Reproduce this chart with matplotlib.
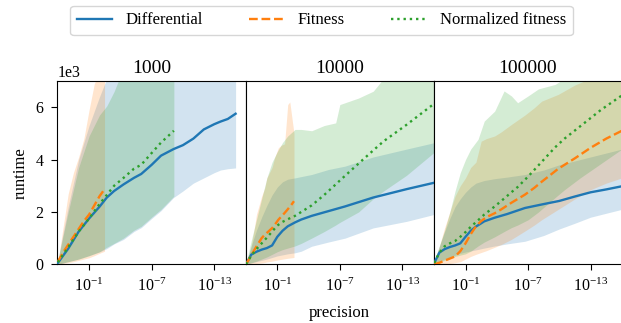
import numpy as np
import matplotlib
matplotlib.use("Agg")
import matplotlib.pyplot as plt
from matplotlib.ticker import NullLocator, FixedLocator

plt.rcParams['font.family'] = ['Liberation Serif', 'DejaVu Serif']
plt.rcParams['mathtext.fontset'] = 'stix'

# ---------------- data (precision exponent -> runtime) ----------------
panel_titles = ["1000", "10000", "100000"]
series_names = ["Differential", "Fitness", "Normalized fitness"]

# Panel 1000
p1_diff_exp = [2.0, 1.0, 0.0, -1.0, -2.0, -2.7, -3.4, -4.3, -5.3, -6.0, -7.0, -7.9, -9.1, -10.0, -11.0, -12.0, -13.0, -13.6, -14.3, -15.05]
p1_diff_mean = [50, 600, 1250, 1750, 2200, 2550, 2800, 3050, 3300, 3450, 3800, 4150, 4400, 4550, 4800, 5150, 5350, 5450, 5550, 5750]
p1_diff_lo = [0, 100, 200, 330, 470, 600, 780, 950, 1250, 1400, 1750, 2050, 2550, 2800, 3100, 3300, 3500, 3600, 3650, 3680]
p1_diff_hi = [150, 2200, 4000, 5300, 6400, 7100, 7500, 7500, 7500, 7500, 7500, 7500, 7500, 7500, 7500, 7500, 7500, 7500, 7500, 7500]

p1_fit_exp = [2.0, 1.5, 1.0, 0.5, 0.0, -0.5, -1.0, -1.5, -2.0, -2.48]
p1_fit_mean = [100, 450, 750, 1050, 1350, 1650, 1900, 2250, 2600, 2870]
p1_fit_lo = [0, 30, 60, 100, 150, 200, 250, 330, 420, 500]
p1_fit_hi = [50, 1400, 2700, 3500, 4100, 4800, 5900, 6900, 7300, 7500]

p1_norm_exp = [2.0, 1.0, 0.0, -1.0, -2.0, -2.7, -3.4, -4.3, -5.3, -6.0, -7.0, -7.9, -9.13]
p1_norm_mean = [80, 650, 1250, 1750, 2300, 2650, 3000, 3300, 3650, 3800, 4250, 4650, 5100]
p1_norm_lo = [0, 100, 200, 330, 480, 650, 800, 1000, 1300, 1450, 1800, 2100, 2600]
p1_norm_hi = [150, 2000, 3700, 4900, 5700, 6050, 6600, 7500, 7500, 7500, 7500, 7500, 7500]

# Panel 10000
p2_diff_exp = [2.0, 1.5, 1.0, 0.5, 0.0, -0.5, -1.0, -1.5, -2.0, -2.7, -3.3, -4.3, -5.9, -7.5, -10.2, -13.4, -16.0]
p2_diff_mean = [0, 370, 480, 560, 620, 720, 1050, 1280, 1450, 1600, 1710, 1850, 2030, 2210, 2550, 2870, 3110]
p2_diff_lo = [0, 50, 100, 150, 200, 260, 320, 360, 400, 440, 500, 690, 850, 1000, 1390, 1640, 1900]
p2_diff_hi = [50, 700, 1300, 1800, 2250, 2650, 2950, 3150, 3250, 3300, 3350, 3430, 3620, 3750, 4100, 4400, 4640]

p2_fit_exp = [2.0, 1.5, 1.2, 1.0, 0.5, 0.2, 0.0, -0.5, -0.74, -1.1, -1.4, -1.7, -2.0, -2.2, -2.4, -2.6]
p2_fit_mean = [0, 340, 550, 680, 1000, 1130, 1200, 1380, 1500, 1700, 1830, 1960, 2100, 2200, 2300, 2410]
p2_fit_lo = [0, 10, 20, 30, 50, 70, 90, 120, 140, 170, 190, 210, 230, 240, 250, 260]
p2_fit_hi = [0, 700, 1390, 1900, 2600, 2920, 3300, 3700, 4070, 4450, 4550, 4600, 6100, 6200, 5600, 5000]

p2_norm_exp = [2.0, 1.5, 1.0, 0.5, 0.0, -0.5, -1.0, -1.5, -2.0, -2.7, -3.3, -4.3, -5.5, -6.6, -7.0, -8.8, -10.2, -11.2, -13.4, -16.0]
p2_norm_mean = [0, 330, 580, 800, 1020, 1250, 1480, 1620, 1720, 1850, 2000, 2250, 2650, 3050, 3200, 3850, 4350, 4700, 5330, 6120]
p2_norm_lo = [0, 60, 120, 200, 280, 380, 480, 560, 620, 700, 800, 1000, 1250, 1500, 1600, 2000, 2500, 2800, 3400, 4260]
p2_norm_hi = [50, 900, 1700, 2500, 3300, 3900, 4300, 4650, 4900, 5150, 5150, 5100, 5300, 5400, 6100, 6350, 6610, 7100, 7500, 7500]

# Panel 100000
p3_diff_exp = [2.0, 1.5, 1.0, 0.5, 0.0, -0.5, -1.0, -1.5, -2.0, -2.8, -3.8, -5.0, -6.7, -8.5, -10.0, -11.5, -13.0, -14.5, -16.0]
p3_diff_mean = [50, 450, 580, 660, 720, 800, 1050, 1280, 1440, 1640, 1780, 1920, 2150, 2300, 2420, 2590, 2750, 2860, 2980]
p3_diff_lo = [0, 100, 200, 280, 350, 420, 470, 510, 550, 620, 700, 780, 880, 1100, 1350, 1570, 1800, 1950, 2100]
p3_diff_hi = [150, 700, 1250, 1750, 2200, 2500, 2750, 2950, 3100, 3200, 3270, 3330, 3430, 3600, 3800, 3950, 4100, 4250, 4400]

p3_fit_exp = [2.0, 1.5, 1.0, 0.5, 0.0, -0.5, -1.0, -1.5, -2.0, -2.5, -3.0, -3.8, -4.4, -5.4, -6.7, -7.6, -8.3, -9.9, -11.5, -13.0, -14.5, -16.0]
p3_fit_mean = [0, 60, 140, 220, 300, 500, 800, 1150, 1450, 1650, 1800, 1950, 2090, 2350, 2660, 2920, 3150, 3650, 4050, 4450, 4800, 5100]
p3_fit_lo = [0, 0, 10, 30, 60, 100, 200, 300, 380, 450, 520, 650, 750, 950, 1270, 1500, 1700, 2100, 2500, 2850, 3100, 3300]
p3_fit_hi = [50, 700, 1400, 2000, 2600, 3000, 3300, 3700, 3900, 4700, 4800, 4900, 5050, 5340, 5700, 5980, 6230, 6490, 6850, 7100, 7400, 7600]

p3_norm_exp = [2.0, 1.5, 1.0, 0.5, 0.0, -0.5, -1.0, -1.5, -2.2, -2.8, -3.8, -4.7, -5.4, -6.0, -7.0, -8.0, -9.6, -10.5, -12.0, -14.0, -16.0]
p3_norm_mean = [50, 450, 690, 800, 890, 1050, 1230, 1430, 1680, 1900, 2210, 2510, 2750, 2950, 3350, 3780, 4470, 4800, 5270, 5900, 6450]
p3_norm_lo = [0, 80, 150, 220, 300, 350, 400, 500, 700, 850, 1050, 1250, 1400, 1500, 1700, 2000, 2550, 2850, 3300, 3850, 4400]
p3_norm_hi = [100, 700, 1300, 2000, 2800, 3500, 4000, 4400, 4770, 5470, 5850, 6620, 6430, 6170, 6430, 6700, 6870, 7100, 7500, 7800, 8000]

panels = [
    [(p1_diff_exp, p1_diff_mean, p1_diff_lo, p1_diff_hi),
     (p1_fit_exp, p1_fit_mean, p1_fit_lo, p1_fit_hi),
     (p1_norm_exp, p1_norm_mean, p1_norm_lo, p1_norm_hi)],
    [(p2_diff_exp, p2_diff_mean, p2_diff_lo, p2_diff_hi),
     (p2_fit_exp, p2_fit_mean, p2_fit_lo, p2_fit_hi),
     (p2_norm_exp, p2_norm_mean, p2_norm_lo, p2_norm_hi)],
    [(p3_diff_exp, p3_diff_mean, p3_diff_lo, p3_diff_hi),
     (p3_fit_exp, p3_fit_mean, p3_fit_lo, p3_fit_hi),
     (p3_norm_exp, p3_norm_mean, p3_norm_lo, p3_norm_hi)],
]

colors = ["#1f77b4", "#ff7f0e", "#2ca02c"]
styles = ["-", "--", ":"]

# ---------------- figure ----------------
fig = plt.figure(figsize=(6.21, 3.23), dpi=100)
W, H = 621.0, 323.0
ax_left, ax_w = 57.3, 188.2
ax_bottom, ax_top = 264.3, 81.0

axes = []
for i in range(3):
    x0 = (ax_left + i * ax_w) / W
    ax = fig.add_axes([x0, 1 - ax_bottom / H, ax_w / W, (ax_bottom - ax_top) / H],
                      sharey=axes[0] if axes else None)
    axes.append(ax)

handles = []
for i, ax in enumerate(axes):
    for j, (ex, mean, lo, hi) in enumerate(panels[i]):
        x = 10.0 ** np.array(ex)
        ax.fill_between(x, lo, hi, color=colors[j], alpha=0.2, linewidth=0, zorder=1)
    for j, (ex, mean, lo, hi) in enumerate(panels[i]):
        x = 10.0 ** np.array(ex)
        ln, = ax.plot(x, mean, color=colors[j], linestyle=styles[j], linewidth=1.7,
                      zorder=3, label=series_names[j])
        if i == 0:
            handles.append(ln)
    ax.set_xscale('log')
    ax.set_xlim(10 ** 2.05, 1e-16)
    ax.xaxis.set_major_locator(FixedLocator([1e-1, 1e-7, 1e-13]))
    ax.xaxis.set_minor_locator(NullLocator())
    ax.set_title(panel_titles[i], fontsize=14)
    ax.tick_params(labelsize=11.5, length=4, pad=6)
    if i > 0:
        ax.tick_params(axis='y', left=False, labelleft=False)

axes[0].set_ylim(0, 7000)
axes[0].set_yticks([0, 2000, 4000, 6000])
axes[0].ticklabel_format(axis='y', style='sci', scilimits=(3, 3))
axes[0].yaxis.get_offset_text().set_fontsize(11.5)
axes[0].set_ylabel("runtime", fontsize=12, labelpad=5)
axes[1].set_xlabel("precision", fontsize=12, labelpad=7)

fig.legend(handles=handles, loc='center', bbox_to_anchor=(321.5 / W, 1 - 20.5 / H),
           ncol=3, fontsize=12, handlelength=2.1, columnspacing=2.8, frameon=True)

fig.savefig("out.png", dpi=100)
